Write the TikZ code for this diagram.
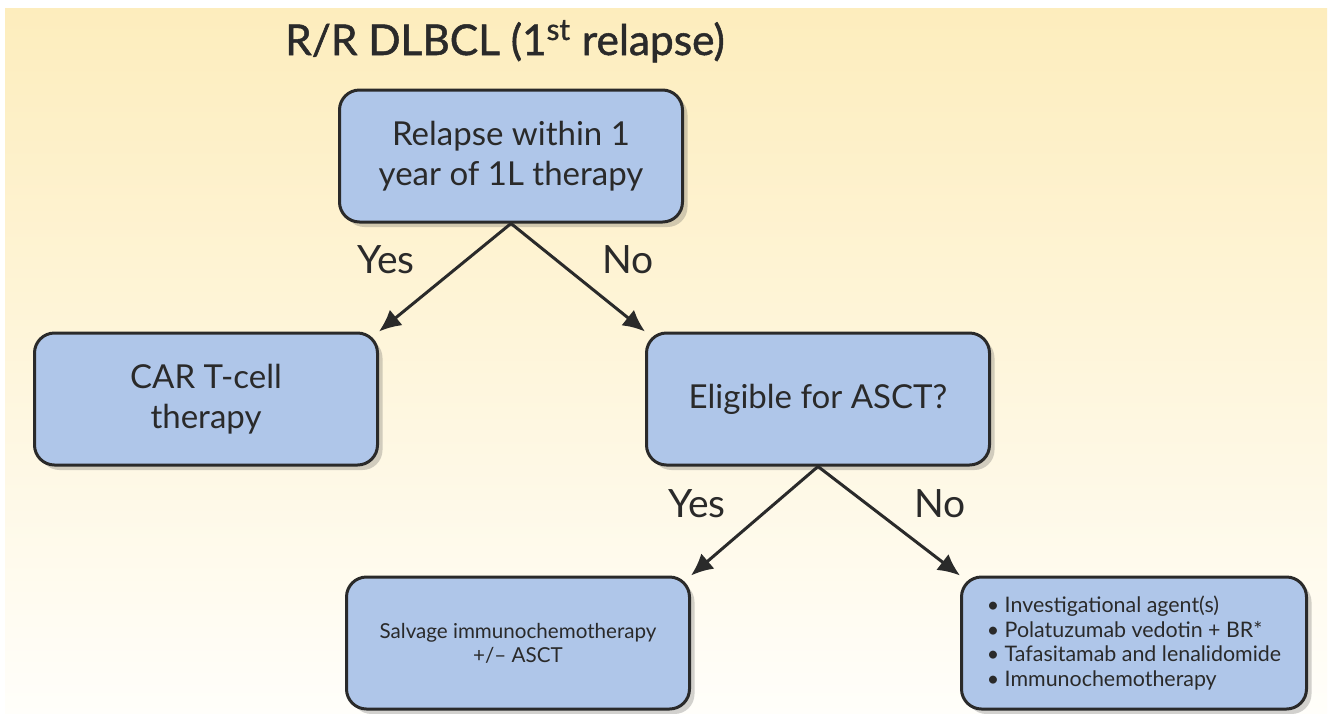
\documentclass[tikz,border=0pt]{standalone}
\usepackage{fontspec}
\setmainfont{Lato}
\newfontfamily\titlefont[FakeBold=1.2]{Lato}
\usetikzlibrary{arrows.meta,shadows}
\definecolor{boxblue}{HTML}{AFC6E9}
\definecolor{ink}{HTML}{2A2A2A}
\definecolor{bgtop}{HTML}{FDEDBD}
\definecolor{bgmid}{HTML}{FEF4D8}
\definecolor{bgbot}{HTML}{FFFEFA}
\newcommand\bigtext{\fontsize{19.5}{22}\selectfont}
\newcommand\boxtext{\fontsize{16.5}{20}\selectfont}
\newcommand\smalltext{\fontsize{10.3}{12}\selectfont}
\newcommand\listtext{\fontsize{10.7}{12.4}\selectfont}

\begin{document}
\begin{tikzpicture}[x=0.5pt,y=-0.5pt,
  box/.style={draw=ink, line width=1.5pt, fill=boxblue, rounded corners=10pt,
    minimum width=171.5pt, minimum height=66pt, align=center, text=ink, font=\boxtext,
    drop shadow={shadow xshift=2.5pt, shadow yshift=-2.5pt, opacity=0.25, fill=black!70}},
  arr/.style={-{Latex[length=11pt,width=10pt]}, line width=1.5pt, draw=ink},
  lbl/.style={text=ink, font=\bigtext, anchor=base}]
\useasboundingbox (0,0) rectangle (1333,713);
\fill[white] (0,0) rectangle (1333,713);
\shade[top color=bgtop, middle color=bgmid, bottom color=bgbot] (5,8) rectangle (1327,713);

% title
\node[lbl, font=\titlefont\fontsize{21.2}{24}\selectfont] (title) at (505,55)
  {R/R DLBCL (1\textsuperscript{st} relapse)};

% boxes
\node[box] (relapse) at (511,156) {Relapse within 1\\year of 1L therapy};
\node[box] (car) at (206,399) {CAR T-cell\\therapy};
\node[box] (elig) at (818,399) {Eligible for ASCT?};
\node[box, font=\smalltext] (salv) at (518,643) {Salvage immunochemotherapy\\+/-- ASCT};
\node[box, font=\listtext, align=left, minimum width=172.5pt] (opts) at (1134,643)
  {\textbullet\ Investigational agent(s)\\
   \textbullet\ Polatuzumab vedotin + BR*\\
   \textbullet\ Tafasitamab and lenalidomide\\
   \textbullet\ Immunochemotherapy};

% connectors
\draw[arr] (relapse.south) -- (car.north east);
\draw[arr] (relapse.south) -- (elig.north west);
\draw[arr] (elig.south) -- (salv.north east);
\draw[arr] (elig.south) -- (opts.north west);

% labels
\node[lbl] (yes1) at (386,273) {Yes};
\node[lbl] (no1) at (628,273) {No};
\node[lbl] (yes2) at (697,517) {Yes};
\node[lbl] (no2) at (940,517) {No};
\end{tikzpicture}
\end{document}
